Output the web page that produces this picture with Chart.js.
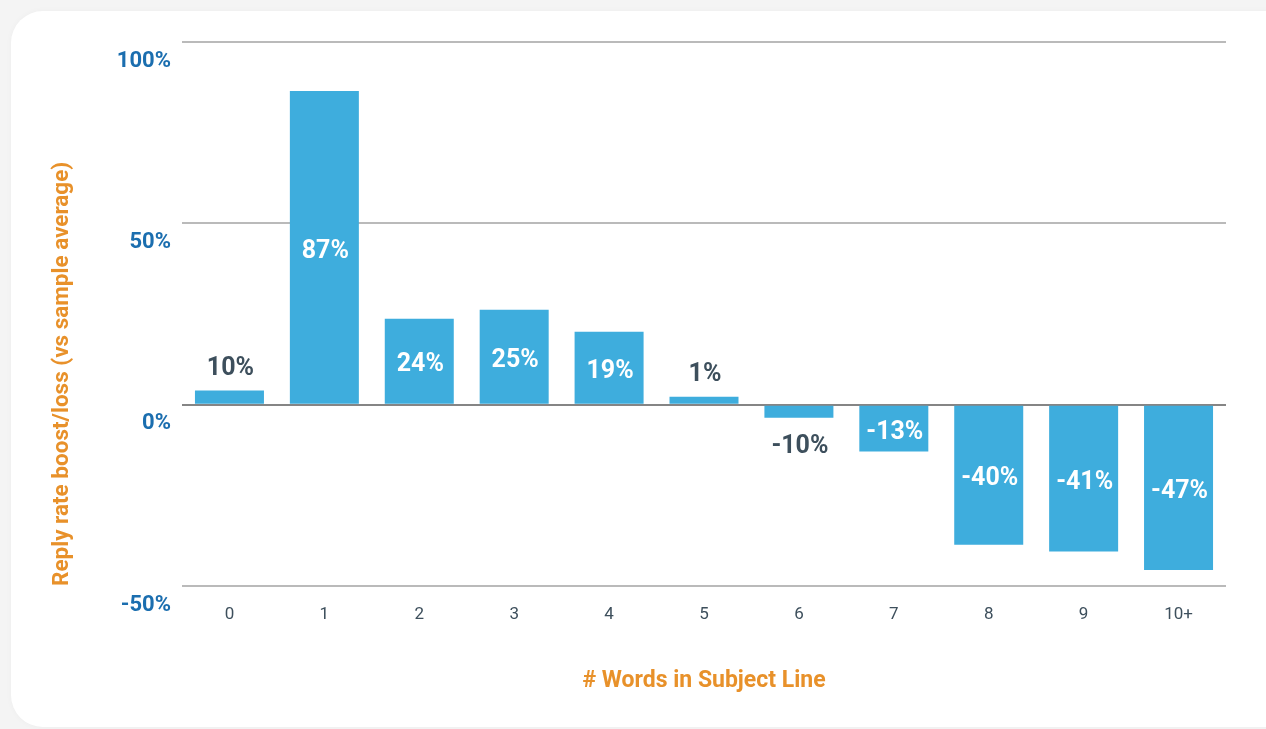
<!DOCTYPE html>
<html>
<head>
<meta charset="utf-8">
<script src="https://cdn.jsdelivr.net/npm/chart.js@4"></script>
<style>
  html, body { margin: 0; padding: 0; background: #f4f4f4; overflow: hidden; }
  .card { position: absolute; left: 11px; top: 11px; width: 1290px; height: 716px; background: #fff; border-radius: 32px; box-shadow: 0 0 6px rgba(0,0,0,0.03); }
  .wrap { position: absolute; left: 0; top: 0; width: 1266px; height: 729px; }
</style>
</head>
<body>
<div class="card"></div>
<div class="wrap"><canvas id="chart"></canvas></div>
<script>
  const categories = ['0', '1', '2', '3', '4', '5', '6', '7', '8', '9', '10+'];
  // bar heights as drawn in the picture (they do not all match the printed labels)
  const barValues = [3.9, 86.5, 23.7, 26.2, 20.1, 2.2, -3.6, -12.9, -38.6, -40.5, -45.6];
  const barLabels = ['10%', '87%', '24%', '25%', '19%', '1%', '-10%', '-13%', '-40%', '-41%', '-47%'];
  const yTicks = [-50, 0, 50, 100];

  const BAR = '#3eaddd';
  const ORANGE = '#e8912a';
  const BLUE = '#1b6eaf';
  const SLATE = '#3d4f5c';

  const barLabelPlugin = {
    id: 'barLabels',
    afterDatasetsDraw(chart) {
      const { ctx } = chart;
      const meta = chart.getDatasetMeta(0);
      ctx.save();
      ctx.font = 'bold 25px Roboto';
      ctx.textAlign = 'center';
      ctx.textBaseline = 'middle';
      meta.data.forEach((bar, i) => {
        const top = Math.min(bar.y, bar.base);
        const bottom = Math.max(bar.y, bar.base);
        const inside = bottom - top > 40;
        let y;
        if (inside) {
          ctx.fillStyle = '#fff';
          y = (top + bottom) / 2 + 4;
        } else {
          ctx.fillStyle = SLATE;
          y = barValues[i] >= 0 ? top - 22 : bottom + 29;
        }
        ctx.fillText(barLabels[i], bar.x + 1, y);
      });
      ctx.restore();
    },
  };

  new Chart(document.getElementById('chart'), {
    type: 'bar',
    data: {
      labels: categories,
      datasets: [{
        data: barValues,
        backgroundColor: BAR,
        borderWidth: 0,
        categoryPercentage: 1,
        barPercentage: 0.727,
      }],
    },
    options: {
      responsive: true,
      maintainAspectRatio: false,
      animation: false,
      layout: { padding: { left: 49, right: 40, top: 42, bottom: 34 } },
      plugins: { legend: { display: false }, tooltip: { enabled: false } },
      scales: {
        x: {
          grid: { display: false },
          border: { display: false },
          ticks: { color: SLATE, font: { family: 'Roboto', size: 17 }, padding: 11 },
          title: {
            display: true,
            text: '# Words in Subject Line',
            color: ORANGE,
            font: { family: 'Roboto', size: 23, weight: 'bold' },
            padding: 0,
          },
          afterFit(scale) { scale.height = 729 - 34 - 586; },
        },
        y: {
          min: -50,
          max: 100,
          afterBuildTicks(scale) { scale.ticks = yTicks.map((v) => ({ value: v })); },
          grid: {
            drawTicks: false,
            lineWidth: 2,
            color: (c) => (c.tick && c.tick.value === 0 ? '#858585' : '#bababa'),
          },
          border: { display: false },
          ticks: {
            color: BLUE,
            font: { family: 'Roboto', size: 22, weight: 'bold' },
            padding: 11,
            labelOffset: 19,
            callback: (v) => `${v}%`,
          },
          title: {
            display: true,
            text: 'Reply rate boost/loss (vs sample average)',
            align: 'start',
            color: ORANGE,
            font: { family: 'Roboto', size: 22.5, weight: 'bold' },
            padding: 0,
          },
          afterFit(scale) { scale.width = 182 - 49; },
        },
      },
    },
    plugins: [barLabelPlugin],
  });
</script>
</body>
</html>
